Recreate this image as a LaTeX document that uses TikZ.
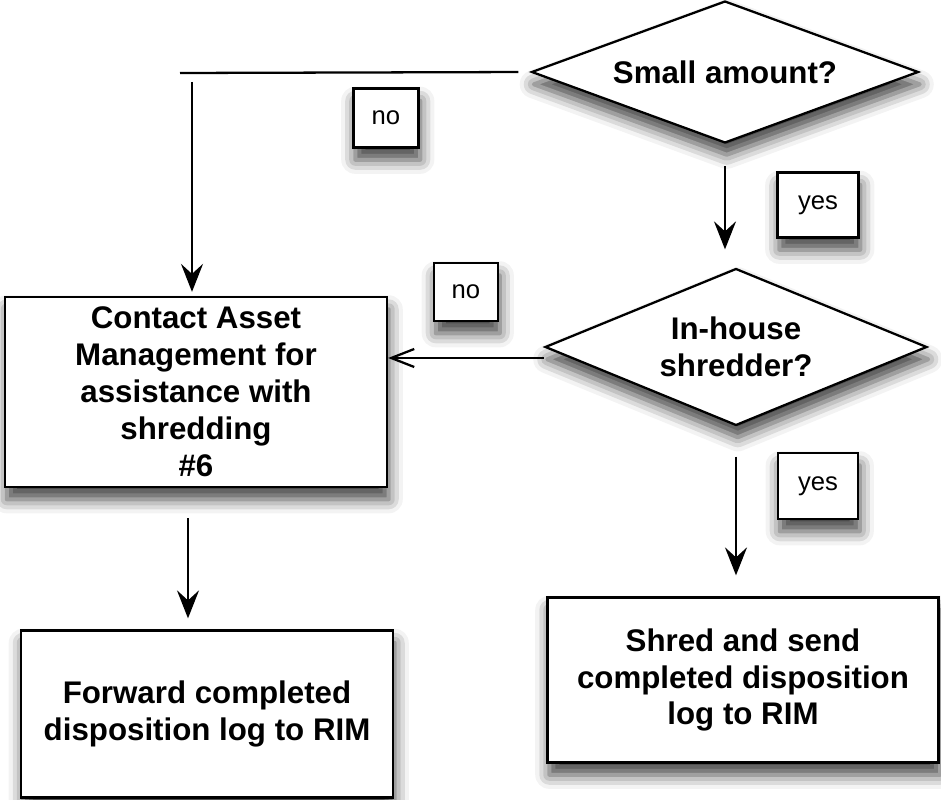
\documentclass[tikz,border=0pt]{standalone}
\usepackage{fontspec}
\setmainfont{Liberation Sans}
\usetikzlibrary{shapes.geometric,arrows.meta,shadows.blur}
\tikzset{every path/.style={black,line width=1.3pt},
   soft/.style={fill=white, blur shadow={shadow xshift=1pt,shadow yshift=-7pt,shadow blur radius=8pt,shadow opacity=75}},
   decision/.style={soft, draw, diamond, inner sep=0pt, align=center, font=\fontsize{17.8pt}{21pt}\selectfont\bfseries},
   block/.style={soft, draw, rectangle, inner sep=0pt, align=center, font=\fontsize{17.8pt}{21pt}\selectfont\bfseries},
   tag/.style={soft, draw, rectangle, inner sep=0pt, font=\fontsize{14.6pt}{17pt}\selectfont},
   flow/.style={-{Stealth[length=0.56cm,width=0.44cm,inset=0.2cm]}},
   back/.style={-{Straight Barb[length=0.46cm,width=0.36cm]}}}

\begin{document}
\begin{tikzpicture}[x=0.02cm,y=-0.02cm]
   \useasboundingbox (0,0) rectangle (941,800);
   \node[decision, aspect=2.73, minimum width=7.74cm, minimum height=2.84cm] (small) at (725,72) {Small amount?};
   \node[decision, aspect=2.43, minimum width=7.64cm, minimum height=3.14cm] (inhouse) at (736,347) {In-house\\shredder?};
   \node[block, minimum width=7.64cm, minimum height=3.8cm] (contact) at (196,392) {Contact Asset\\Management for\\assistance with\\shredding\\\#6};
   \node[block, minimum width=7.44cm, minimum height=3.34cm] (forward) at (207,714) {Forward completed\\disposition log to RIM};
   \node[block, minimum width=7.82cm, minimum height=3.3cm] (shred) at (743,680) {Shred and send\\completed disposition\\log to RIM};
   \node[tag, minimum width=1.3cm, minimum height=1.18cm] (noA) at (386,118) {no};
   \node[tag, minimum width=1.62cm, minimum height=1.3cm] (yesA) at (818,205) {yes};
   \node[tag, minimum width=1.28cm, minimum height=1.16cm] (noB) at (466,292) {no};
   \node[tag, minimum width=1.6cm, minimum height=1.32cm] (yesB) at (818,486) {yes};

   \coordinate (bendA) at (180,73);
   \coordinate (dropA) at (192,82);
   \coordinate (sideB) at ([yshift=-0.22cm]inhouse.west);
   \coordinate (dropB) at ([xshift=-0.16cm]contact.south);
   \draw[shorten <=0.24cm] (small.west) -- (bendA);
   \draw[flow,shorten >=0.08cm] (dropA) -- (dropA |- contact.north);
   \draw[flow,shorten <=0.44cm,shorten >=0.36cm] (small.south) -- (small.south |- inhouse.north);
   \draw[back] (sideB) -- (sideB -| contact.east);
   \draw[flow,shorten <=0.6cm,shorten >=0.42cm] (inhouse.south) -- (inhouse.south |- shred.north);
   \draw[flow,shorten <=0.6cm,shorten >=0.22cm] (dropB) -- (dropB |- forward.north);
\end{tikzpicture}
\end{document}
